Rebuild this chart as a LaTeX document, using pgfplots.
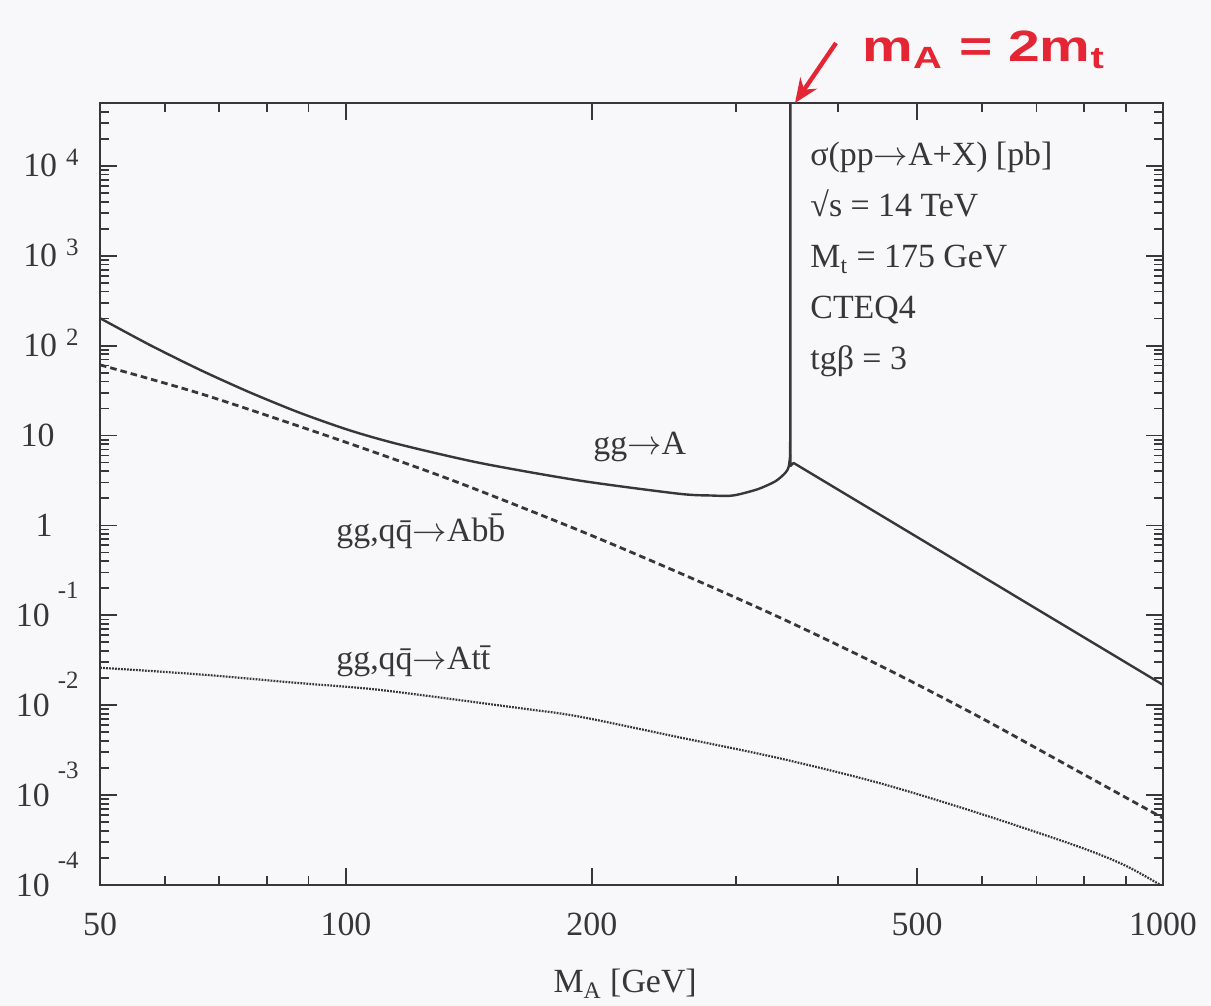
\documentclass[border=0pt]{standalone}
\usepackage{fontspec}
\setmainfont{Liberation Serif}
\newfontfamily\handfont{Liberation Sans}
\usepackage{pgfplots}
\pgfplotsset{compat=1.18}
\usetikzlibrary{arrows.meta}
\definecolor{ink}{RGB}{55,55,58}
\definecolor{redink}{RGB}{228,38,52}
\definecolor{paper}{RGB}{248,248,250}
\newcommand\pexp[1]{10\smash{\hspace{4.5bp}\raisebox{5.5bp}{\fontsize{12.5}{14}\selectfont #1}}}
\newcommand\nexp[1]{10\smash{\hspace{4bp}\raisebox{14bp}{\fontsize{12.5}{14}\selectfont -#1}}}
\newcommand\ar{$\rightarrow$}

\pgfplotstableread{
M s
50 202
57.5 102
66.3 53.7
76.2 30.3
87.8 17.9
101.1 11.4
116 8.0
145.6 4.97
192.9 3.16
255.6 2.25
280.5 2.15
294 2.13
303 2.22
320 2.55
335.5 3.1
345 3.85
348.3 4.5
349.7 6.1
}\ggAleft

\pgfplotstableread{
M s
349.7 6.1
350 1000000
350.05 4.6
353.1 4.95
500 0.743
700 0.118
1000 0.01686
}\ggAright

\pgfplotstableread{
M s
50 61.1
66.3 29.3
87.8 12.6
110 6.21
138.7 2.89
192.9 0.881
255.6 0.298
338.6 0.0956
448.6 0.0281
594.4 0.00750
787.5 0.00184
1000 0.000556
}\Abb

\pgfplotstableread{
M s
50 0.0261
66.3 0.0220
87.8 0.0176
110 0.0148
163 0.00929
192.9 0.00748
255.6 0.00440
338.6 0.00258
448.6 0.00137
594.4 0.000631
787.5 0.000268
900 0.000164
1000 0.0000962
}\Att

\begin{document}
\begin{tikzpicture}
\path[use as bounding box] (-50bp,-60.5bp) rectangle (555.5bp,442.5bp);
\fill[paper] (-50bp,-60.5bp) rectangle (555.5bp,442.5bp);
\begin{axis}[
  at={(0,0)}, anchor=south west,
  scale only axis, width=531.5bp, height=391bp,
  xmode=log, ymode=log,
  xmin=50, xmax=1000, ymin=1e-4, ymax=5e4,
  axis line style={ink, line width=1.2bp},
  tick align=inside,
  tick style={ink, line width=0.9bp},
  major tick length=8.5bp, minor tick length=4.5bp,
  xtick={50,100,200,500,1000},
  xticklabels={50,100,200,500,1000},
  minor xtick={60,70,80,90,300,400,600,700,800,900},
  ytick={1e-4,1e-3,1e-2,1e-1,1,10,100,1000,10000},
  yticklabels={\nexp{4},\nexp{3},\nexp{2},\nexp{1},1\kern13bp,10\kern12bp,\pexp{2},\pexp{3},\pexp{4}},
  minor ytick={2e-4,3e-4,4e-4,5e-4,6e-4,7e-4,8e-4,9e-4,
    2e-3,3e-3,4e-3,5e-3,6e-3,7e-3,8e-3,9e-3,
    2e-2,3e-2,4e-2,5e-2,6e-2,7e-2,8e-2,9e-2,
    0.2,0.3,0.4,0.5,0.6,0.7,0.8,0.9,
    2,3,4,5,6,7,8,9,
    20,30,40,50,60,70,80,90,
    200,300,400,500,600,700,800,900,
    2000,3000,4000,5000,6000,7000,8000,9000,
    20000,30000,40000},
  tick label style={font=\fontsize{17}{20}\selectfont, text=ink},
  yticklabel style={anchor=east, inner sep=0pt, xshift=-10.5bp},
  xticklabel style={anchor=north, inner sep=0pt, yshift=-14bp},
  xlabel={M\textsubscript{A} [GeV]},
  xlabel style={at={(rel axis cs:0.494,-0.138)}, anchor=base, inner sep=0pt, text=ink, font=\fontsize{17}{20}\selectfont},
  every axis plot/.append style={ink, line join=round},
]
\addplot[line width=1.2bp, smooth, tension=0.45] table[x=M,y=s] {\ggAleft};
\addplot[line width=1.2bp] table[x=M,y=s] {\ggAright};
\addplot[line width=1.4bp, smooth, dash pattern=on 3.3bp off 2bp] table[x=M,y=s] {\Abb};
\addplot[line width=1.1bp, smooth, dash pattern=on 0.9bp off 0.6bp] table[x=M,y=s] {\Att};
\end{axis}
\begin{scope}[every node/.style={anchor=base west, inner sep=0pt, text=ink, font=\fontsize{17}{20}\selectfont}]
\node at (355bp,359.5bp) {σ(pp\ar A+X) [pb]};
\node at (355bp,334bp) {√s = 14 TeV};
\node at (355bp,308.5bp) {M\textsubscript{t} = 175 GeV};
\node at (355bp,283bp) {CTEQ4};
\node at (355bp,257.5bp) {tgβ = 3};
\node at (246.5bp,215bp) {gg\ar A};
\node at (118bp,171.5bp) {gg,q\={q}\ar Ab\={b}};
\node at (118bp,107.5bp) {gg,q\={q}\ar At\={t}};
\end{scope}
\node[anchor=base west, inner sep=0pt, text=redink, font=\handfont\bfseries\fontsize{22}{24}\selectfont, xscale=1.3] at (381bp,411.5bp) {m\textsubscript{A} = 2m\textsubscript{t}};
\draw[redink, line width=2.2bp, -{Stealth[length=12bp,width=10bp]}] (368bp,421bp) -- (347.5bp,391bp);
\end{tikzpicture}
\end{document}
